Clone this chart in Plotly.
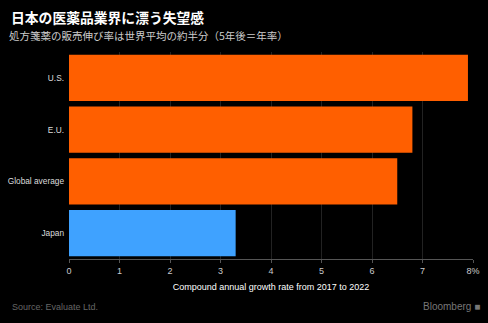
import plotly.graph_objects as go

categories = ["U.S.", "E.U.", "Global average", "Japan"]
values = [7.9, 6.8, 6.5, 3.3]
colors = ["#ff5f00", "#ff5f00", "#ff5f00", "#3fa2ff"]
tick_vals = [0, 1, 2, 3, 4, 5, 6, 7, 8]
tick_text = ["0", "1", "2", "3", "4", "5", "6", "7", "8%"]

W, H = 488, 323
ML, MR, MT, MB = 69, 15, 52, 64

fig = go.Figure(go.Bar(
    y=categories, x=values, orientation="h",
    marker=dict(color=colors, line=dict(width=0)),
))

cjk = "Noto Sans CJK JP, sans-serif"
latin = "Liberation Sans, Arial, sans-serif"
fig.update_layout(
    width=W, height=H,
    paper_bgcolor="#000000", plot_bgcolor="#000000",
    margin=dict(l=ML, r=MR, t=MT, b=MB, autoexpand=False),
    bargap=0.11,
    showlegend=False,
    font=dict(family=latin, color="#cccccc", size=9),
    xaxis=dict(
        range=[0, 8], tickvals=tick_vals, ticktext=tick_text,
        showgrid=True, gridcolor="#222222", gridwidth=1,
        zeroline=False, showline=True, linecolor="#555555",
        ticks="outside", ticklen=3, tickcolor="#555555",
        tickfont=dict(size=9, color="#cccccc", family=latin),
        title=dict(text="Compound annual growth rate from 2017 to 2022",
                   font=dict(size=9, color="#ffffff", family=latin), standoff=8),
        automargin=False, fixedrange=True,
    ),
    yaxis=dict(
        categoryorder="array", categoryarray=categories[::-1],
        showgrid=False, zeroline=False, showline=False,
        ticks="", ticklabelstandoff=4,
        tickfont=dict(size=8.3, color="#dddddd", family=latin),
        automargin=False, fixedrange=True,
    ),
)

plot_l, plot_r, plot_t, plot_b = ML, W - MR, MT, H - MB
pw, ph = plot_r - plot_l, plot_b - plot_t

def px(x):
    return (x - plot_l) / pw

def py(y):
    return (plot_b - y) / ph

fig.add_annotation(text="<b>日本の医薬品業界に漂う失望感</b>", x=px(9), y=py(17),
                   xref="paper", yref="paper", xanchor="left", yanchor="middle",
                   showarrow=False, font=dict(size=13.8, color="#ffffff", family=cjk))
fig.add_annotation(text="処方箋薬の販売伸び率は世界平均の約半分（5年後＝年率）", x=px(7), y=py(35),
                   xref="paper", yref="paper", xanchor="left", yanchor="middle",
                   showarrow=False, font=dict(size=10.5, color="#cccccc", family=cjk))
fig.add_annotation(text="Source: Evaluate Ltd.", x=px(10), y=py(307),
                   xref="paper", yref="paper", xanchor="left", yanchor="middle",
                   showarrow=False, font=dict(size=9, color="#666666", family=latin))
fig.add_annotation(text="Bloomberg ■", x=px(482), y=py(306),
                   xref="paper", yref="paper", xanchor="right", yanchor="middle",
                   showarrow=False, font=dict(size=10, color="#777777", family=latin))

fig.write_html("out.html")
